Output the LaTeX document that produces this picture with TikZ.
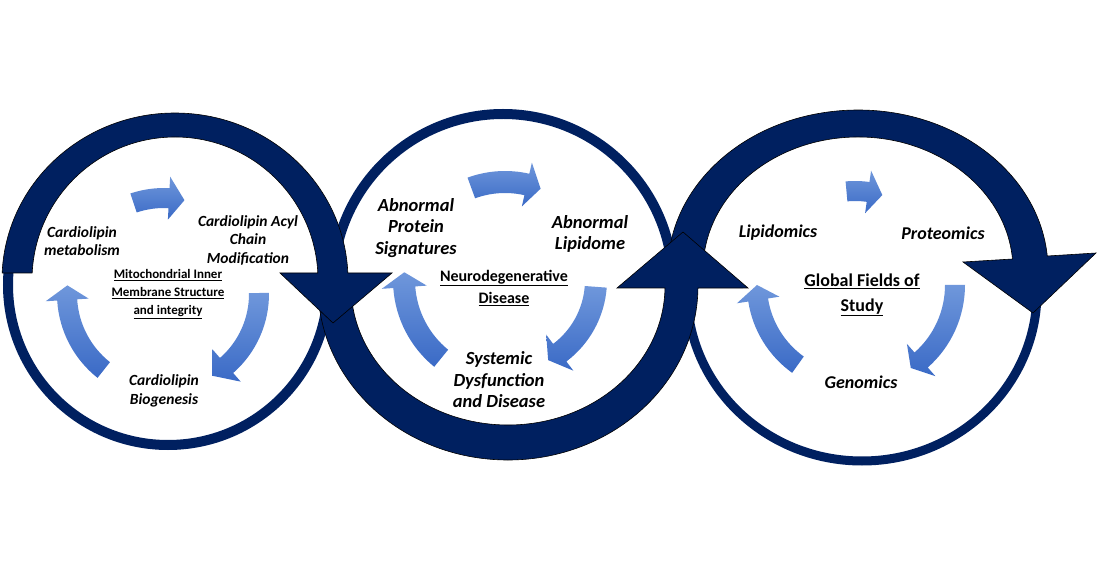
\documentclass[tikz,border=0pt]{standalone}
\usepackage{fontspec}
\setmainfont{Carlito}
\definecolor{navy}{HTML}{002060}
\definecolor{bltop}{HTML}{6F97DB}
\definecolor{blbot}{HTML}{3A6AC6}
\tikzset{
  ring/.style={draw=navy, line width=10pt},
  band/.style={fill=navy, draw=black, line width=0.6pt, line join=miter},
  labA/.style={align=center, inner sep=0pt, font=\fontsize{15.5}{18.5}\selectfont\bfseries\itshape},
  ctrA/.style={align=center, inner sep=0pt, font=\fontsize{13}{18}\selectfont\bfseries},
  labB/.style={align=center, inner sep=0pt, font=\fontsize{18.5}{21.5}\selectfont\bfseries\itshape},
  ctrB/.style={align=center, inner sep=0pt, font=\fontsize{16}{22}\selectfont\bfseries},
  labC/.style={align=center, inner sep=0pt, font=\fontsize{18}{21}\selectfont\bfseries\itshape},
  ctrC/.style={align=center, inner sep=0pt, font=\fontsize{18}{25}\selectfont\bfseries},
}
% #1 centre, #2 radius, #3 tail angle, #4 head-base angle, #5 tip angle, #6 half shaft, #7 half head
\newcommand{\bluearrow}[7]{%
  \shade[top color=bltop, bottom color=blbot, shift={#1}]
    (#3:{#2+#6}) arc[start angle=#3, end angle=#4, radius={#2+#6}]
    -- (#4:{#2+#7}) -- (#5:#2) -- (#4:{#2-#7}) -- (#4:{#2-#6})
    arc[start angle=#4, end angle=#3, radius={#2-#6}] -- cycle;
}
\begin{document}
\begin{tikzpicture}[x=1pt,y=1pt]
\useasboundingbox[fill=white] (0,0) rectangle (1100,560);

% thin rings
\draw[ring] (168,275) circle[radius=160];
\draw[ring] (503,276) circle[radius=170];
\draw[ring, line width=9pt] (862,268) ellipse[x radius=175, y radius=169];

% right circle thick arrow
\path[band] (668.73,276.0) arc[start angle=185.02, end angle=5.02, x radius=190, y radius=160]
  -- (1096,307) -- (1033,247) -- (963,298) -- (1012.47,301.0)
  arc[start angle=4.74, end angle=186.04, x radius=155, y radius=133] -- cycle;

% middle circle thick arrow
\path[band] (318.11,280) arc[start angle=178.02, end angle=359.34, x radius=190, y radius=174]
  -- (748,272) -- (683,328) -- (617,272) -- (664.98,272)
  arc[start angle=359.18, end angle=177.53, x radius=157, y radius=139] -- cycle;

% left circle thick arrow
\path[band] (2.15,287) arc[start angle=177.60, end angle=2.40, x radius=173, y radius=167]
  -- (392,287) -- (333,237) -- (280,287) -- (317.83,287)
  arc[start angle=2.806, end angle=177.194, radius=143] -- cycle;

% blue cycle arrows
\bluearrow{(164,266)}{96}{108.5}{87}{77.7}{10}{21.5}
\bluearrow{(164,266)}{95}{0.6}{-48.8}{-59.4}{10}{21.5}
\bluearrow{(164,266)}{97}{231.6}{183.5}{174.9}{10}{21.5}

\bluearrow{(505,280)}{98}{110.1}{77.1}{68.7}{11}{22.5}
\bluearrow{(505,280)}{91}{-4.3}{-53}{-61.7}{11}{22.5}
\bluearrow{(505,280)}{101}{230.8}{184.1}{175.6}{11}{22.5}

\bluearrow{(855,275)}{94}{95.2}{82}{73.1}{10}{21.5}
\bluearrow{(855,275)}{100}{0}{-48.6}{-56.1}{10}{21.5}
\bluearrow{(855,275)}{98}{234.4}{188.8}{180}{10}{21.5}

% left circle texts
\node[labA] (cmeta) at (82,319) {Cardiolipin\\metabolism};
\node[labA] (cacyl) at (248,320) {Cardiolipin Acyl\\Chain\\Modification};
\node[ctrA] (mito) at (168,266) {\underline{Mitochondrial Inner}\\\underline{Membrane Structure}\\\underline{and integrity}};
\node[labA] (cbio) at (164,169) {Cardiolipin\\Biogenesis};

% middle circle texts
\node[labB] (aps) at (416,332) {Abnormal\\Protein\\Signatures};
\node[labB] (alip) at (590,326) {Abnormal\\Lipidome};
\node[ctrB] (neuro) at (504,272) {\underline{Neurodegenerative}\\\underline{Disease}};
\node[labB] (sys) at (499,180) {Systemic\\Dysfunction\\and Disease};

% right circle texts
\node[labC] (lipi) at (778,327) {Lipidomics};
\node[labC] (prot) at (943,327) {Proteomics};
\node[ctrC] (glob) at (862,265) {\underline{Global Fields of}\\\underline{Study}};
\node[labC] (geno) at (861,178) {Genomics};
\end{tikzpicture}
\end{document}
